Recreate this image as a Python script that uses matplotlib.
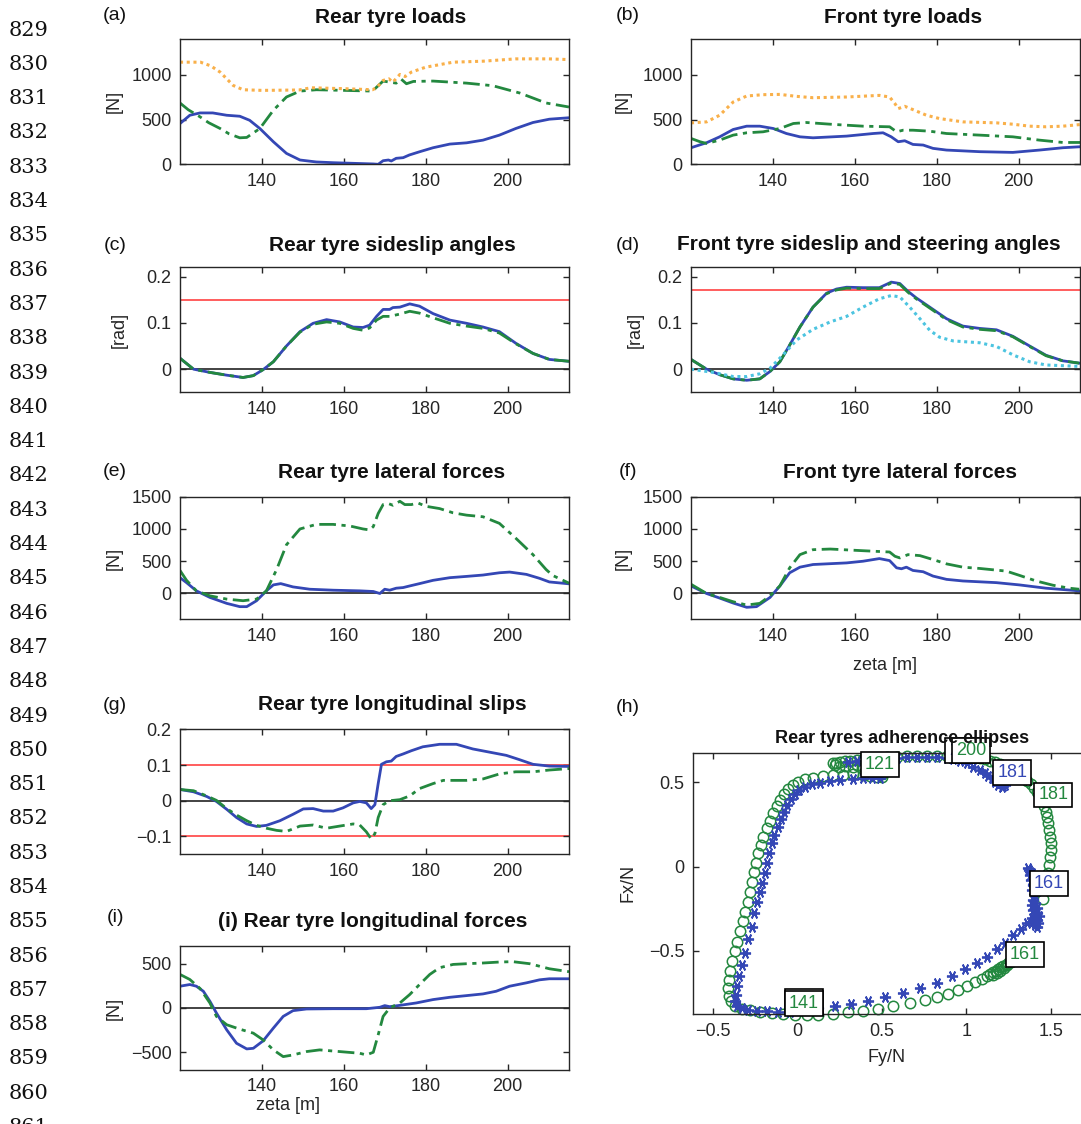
import matplotlib
matplotlib.use('Agg')
import matplotlib.pyplot as plt

W, H = 1081, 1124
plt.rcParams['font.family'] = ['Liberation Sans', 'DejaVu Sans']

BLUE = '#3447b5'
GREEN = '#23883f'
ORANGE = '#f9b04a'
CYAN = '#4cc4e0'
RED = '#ff5050'
DARK = '#262626'

# ---- data: (zeta [m], value) pairs ----
rear_load_inner = [(120, 455), (122.4, 548), (124.9, 574), (128, 574), (131.4, 548), (134.6, 537), (137, 492),
                   (139.5, 400), (142.8, 252), (146, 122), (149.3, 48), (153.3, 26), (157.4, 18), (162.3, 11),
                   (167.2, 4), (168.4, 0), (169.6, 40), (170.9, 48), (171.6, 37), (172.8, 67), (174.5, 74),
                   (176, 104), (178.5, 140), (181.8, 185), (185.9, 226), (190, 240), (194, 270), (198, 326),
                   (202, 400), (206.2, 467), (210.2, 504), (215, 520)]
rear_load_outer = [(120, 685), (122, 610), (124.9, 530), (127, 465), (129.8, 400), (132, 340), (134.6, 296),
                   (136.3, 300), (139.5, 400), (142.8, 604), (146, 752), (149.3, 818), (153.3, 833), (160, 826),
                   (167, 818), (169.6, 930), (171.2, 918), (172.8, 907), (174, 952), (175.3, 900), (177, 926),
                   (181.8, 930), (190, 907), (196.4, 878), (203, 796), (209.4, 685), (215, 640)]
rear_load_total = [(120, 1141), (125, 1141), (127.5, 1100), (129.8, 1030), (133, 881), (135.4, 833), (140, 826),
                   (149, 830), (152, 855), (160, 845), (167, 833), (168, 855), (169.6, 937), (171, 955),
                   (172, 918), (173.7, 1004), (175, 981), (176.5, 1030), (180, 1085), (186.7, 1141),
                   (194, 1152), (202, 1178), (210, 1178), (215, 1170)]

front_load_inner = [(120, 185), (123.8, 241), (127, 307), (130.3, 389), (133.6, 426), (136.8, 426), (140.1, 400),
                    (143.3, 344), (146.6, 307), (149.8, 296), (158, 315), (164.5, 344), (166.9, 352),
                    (168.9, 307), (170.6, 252), (172.2, 263), (174.2, 222), (176.7, 215), (179.1, 178),
                    (182.4, 159), (190.5, 141), (198.6, 133), (205.1, 159), (210.8, 185), (215, 196)]
front_load_outer = [(120, 289), (122.2, 252), (123.8, 233), (127, 270), (130.3, 326), (133.6, 352), (137.6, 363),
                    (141.7, 400), (145, 456), (148.2, 467), (154, 448), (162, 426), (168.5, 419), (170.2, 363),
                    (171.8, 381), (174.2, 381), (178.3, 370), (182.4, 344), (190.5, 326), (198.6, 307),
                    (205.1, 270), (210.8, 244), (215, 244)]
front_load_total = [(120, 463), (123.8, 474), (127, 548), (130.3, 696), (133.6, 763), (137.6, 778), (141.7, 781),
                    (145.8, 759), (149.8, 744), (158, 752), (166, 770), (168.5, 752), (169.8, 678), (170.6, 622),
                    (172.2, 648), (174.2, 611), (177.5, 548), (180.7, 511), (186.4, 474), (194.6, 463),
                    (198.6, 448), (202.7, 426), (206.7, 419), (210.8, 426), (215, 444)]

rear_slip_inner = [(120, 0.0236), (123.3, 0.0), (127.3, -0.007), (131.4, -0.013), (135.4, -0.018),
                   (137.9, -0.014), (140.3, -0.001), (142.8, 0.016), (146, 0.05), (149.3, 0.081), (152.5, 0.099),
                   (155.8, 0.107), (159, 0.102), (162.3, 0.091), (164.7, 0.09), (166.3, 0.095), (168, 0.114),
                   (169.6, 0.129), (171.2, 0.129), (172, 0.133), (173.7, 0.134), (176.1, 0.141), (178.5, 0.136),
                   (181.8, 0.12), (185.9, 0.106), (190, 0.099), (194, 0.091), (198, 0.081), (202, 0.056),
                   (206.2, 0.034), (210.2, 0.021), (215, 0.017)]
rear_slip_outer = [(120, 0.0236), (123.3, 0.0), (127.3, -0.007), (131.4, -0.013), (135.4, -0.018),
                   (137.9, -0.014), (140.3, -0.001), (142.8, 0.016), (146, 0.05), (149.3, 0.08), (152.5, 0.097),
                   (155.8, 0.102), (159, 0.099), (162.3, 0.088), (164.7, 0.084), (166.3, 0.089), (168, 0.106),
                   (169.6, 0.114), (171.2, 0.114), (173.7, 0.119), (176.1, 0.125), (178.5, 0.121),
                   (181.8, 0.111), (185.9, 0.099), (190, 0.093), (194, 0.088), (198, 0.078), (202, 0.055),
                   (206.2, 0.034), (210.2, 0.021), (215, 0.017)]
rear_slip_limit = 0.15

front_slip_inner = [(120, 0.021), (123.8, 0.0), (127, -0.012), (130.3, -0.021), (133.6, -0.024), (136.8, -0.021),
                    (139.3, -0.005), (141.7, 0.016), (144.1, 0.052), (146.6, 0.091), (149.8, 0.134),
                    (153.1, 0.164), (155.5, 0.173), (158, 0.177), (162, 0.176), (166, 0.176), (167.7, 0.183),
                    (168.9, 0.188), (171, 0.185), (173, 0.168), (175, 0.154), (178.3, 0.134), (182.4, 0.109),
                    (186.4, 0.093), (190.5, 0.088), (194.6, 0.085), (198.6, 0.071), (202.7, 0.05),
                    (206.7, 0.03), (210.8, 0.018), (214.8, 0.013)]
front_slip_outer = [(120, 0.021), (123.8, 0.0), (127, -0.012), (130.3, -0.021), (133.6, -0.024), (136.8, -0.021),
                    (139.3, -0.005), (141.7, 0.016), (144.1, 0.052), (146.6, 0.091), (149.8, 0.134),
                    (153.1, 0.163), (155.5, 0.171), (158, 0.175), (162, 0.174), (166, 0.174), (167.7, 0.181),
                    (168.9, 0.186), (171, 0.183), (173, 0.166), (175, 0.152), (178.3, 0.132), (182.4, 0.107),
                    (186.4, 0.091), (190.5, 0.086), (194.6, 0.083), (198.6, 0.07), (202.7, 0.049),
                    (206.7, 0.029), (210.8, 0.018), (214.8, 0.013)]
steer_angle = [(120, 0.0), (125.4, -0.007), (130.3, -0.016), (133.6, -0.016), (136.8, -0.01), (139.3, 0.002),
               (142.5, 0.031), (145.8, 0.063), (149.8, 0.086), (154, 0.102), (158, 0.114), (162, 0.134),
               (166, 0.152), (168.9, 0.159), (171, 0.156), (173.4, 0.134), (175.9, 0.109), (178.3, 0.084),
               (180.7, 0.069), (184, 0.061), (190.5, 0.057), (194.6, 0.049), (198.6, 0.031), (202.7, 0.016),
               (206.7, 0.009), (214.8, 0.006)]
front_slip_limit = 0.17

rear_fy_inner = [(120, 245), (121.6, 168), (124, 41), (127.3, -61), (131.4, -153), (134.6, -204), (136.3, -204),
                 (138.7, -112), (141.1, 41), (142.8, 133), (144.6, 153), (147.6, 102), (151.7, 66), (157.4, 51),
                 (163.9, 41), (167.2, 31), (168.8, 0), (170, 66), (171.2, 51), (172.8, 82), (174.5, 92),
                 (176.1, 117), (178.5, 153), (181.8, 204), (185.9, 245), (190, 265), (194, 286), (198, 321),
                 (200.5, 332), (204.6, 296), (207.8, 235), (210.2, 179), (215, 150)]
rear_fy_outer = [(120, 357), (121.6, 204), (124, 41), (127.3, -36), (131.4, -87), (135.4, -112), (138.7, -87),
                 (141.1, 41), (143.6, 372), (146, 755), (149.3, 1000), (153.3, 1071), (157.4, 1071),
                 (161.5, 1046), (164.7, 1000), (166.3, 985), (167.2, 1036), (168.4, 1240), (169.6, 1378),
                 (170.9, 1393), (172, 1367), (173.7, 1429), (174.9, 1378), (176.5, 1378), (178.1, 1403),
                 (180, 1352), (183.4, 1316), (186.7, 1250), (190, 1214), (194, 1189), (198, 1087), (202, 857),
                 (206.2, 602), (209.4, 372), (211, 280), (215, 160)]

front_fy_inner = [(120, 117), (123.8, 0), (127, -71), (130.3, -148), (133.6, -214), (136, -204), (139.3, -61),
                  (141.7, 117), (144.1, 321), (146.6, 408), (149.8, 449), (158, 474), (162, 500), (166, 541),
                  (168.5, 510), (170.2, 398), (171.4, 383), (172.6, 408), (174.2, 357), (176.7, 337),
                  (179.1, 270), (182.4, 219), (186.4, 194), (194.6, 168), (200.2, 133), (206.7, 82), (214.8, 41)]
front_fy_outer = [(120, 143), (123.8, 0), (127, -61), (130.3, -128), (133.6, -179), (136.8, -153), (139.3, -36),
                  (141.7, 117), (144.1, 398), (146.6, 602), (149.8, 679), (154, 689), (162, 663), (168.5, 643),
                  (169.8, 577), (171, 551), (173, 602), (175.9, 587), (179.1, 526), (182.4, 459), (186.4, 408),
                  (190.5, 388), (197, 347), (200.2, 281), (204.3, 194), (208.4, 128), (212.4, 82), (214.8, 66)]

rear_kappa_inner = [(120, 0.0315), (123.3, 0.025), (126.5, 0.012), (128.9, -0.002), (131.4, -0.024),
                    (133.8, -0.047), (136.3, -0.065), (138.7, -0.072), (141.1, -0.069), (144.4, -0.056),
                    (147.6, -0.038), (150.1, -0.023), (152.5, -0.022), (155, -0.029), (157.4, -0.029),
                    (159.8, -0.02), (162.3, -0.006), (163.9, -0.002), (165.5, -0.006), (166.7, -0.022),
                    (167.6, -0.011), (168.4, 0.048), (169.2, 0.102), (170.4, 0.109), (171.6, 0.111),
                    (172.8, 0.124), (174.5, 0.131), (176.5, 0.14), (179.3, 0.151), (183.4, 0.158), (187.5, 0.158),
                    (191.5, 0.145), (195.6, 0.136), (199.7, 0.127), (202.9, 0.115), (206.2, 0.102),
                    (210.2, 0.097), (215, 0.096)]
rear_kappa_outer = [(120, 0.0315), (123.3, 0.028), (126.5, 0.0135), (128.9, 0.001), (131.4, -0.022),
                    (133.8, -0.04), (136.3, -0.056), (138.7, -0.069), (141.1, -0.077), (143.6, -0.083),
                    (146, -0.086), (149.3, -0.071), (152.5, -0.068), (155.8, -0.077), (159, -0.071),
                    (162.3, -0.065), (163.9, -0.068), (165.5, -0.087), (166.7, -0.107), (167.6, -0.092),
                    (168.4, -0.047), (169.6, -0.011), (171.2, 0.0), (173.7, 0.003), (176.1, 0.0135),
                    (178.5, 0.034), (181.8, 0.048), (184.3, 0.057), (190, 0.057), (194, 0.061), (198, 0.075),
                    (202, 0.081), (206.2, 0.081), (210.2, 0.086), (215, 0.09)]
kappa_limits = [0.1, -0.1]

rear_fx_inner = [(120, 246), (122.4, 265), (124, 246), (125.7, 189), (127.3, 76), (128.9, -57), (131.4, -246),
                 (133.8, -398), (136.3, -462), (137.9, -455), (140.3, -371), (142.8, -227), (145.2, -95),
                 (147.6, -30), (150.9, -11), (157.4, -8), (165.5, -8), (168.8, 8), (170, 27), (171.2, 15),
                 (173.7, 30), (177.7, 57), (181.8, 95), (185.9, 121), (190, 140), (194, 159), (197.2, 189),
                 (200.5, 246), (204.6, 284), (207.8, 318), (210.2, 330), (215, 330)]
rear_fx_outer = [(120, 379), (122.4, 322), (124.9, 220), (127.3, 57), (128.9, -95), (131.4, -189), (134.6, -239),
                 (137.9, -284), (140.3, -360), (142.8, -473), (145.2, -549), (147.6, -530), (150.9, -492),
                 (154.1, -473), (159, -492), (163.9, -511), (165.5, -530), (167.2, -500), (168.4, -303),
                 (169.6, -95), (171.2, 0), (173.7, 57), (176.1, 152), (178.5, 265), (181, 379), (183.4, 455),
                 (186.7, 492), (190, 500), (194, 508), (198, 519), (201.3, 523), (205.4, 500), (210.2, 443),
                 (215, 410)]

# adherence ellipse points (Fy/N, Fx/N)
ellipse_outer = [(0.498, 0.530), (0.468, 0.534), (0.429, 0.538), (0.389, 0.543), (0.330, 0.549), (0.271, 0.545),
                 (0.211, 0.542), (0.152, 0.536), (0.093, 0.528), (0.043, 0.518), (0.004, 0.504), (-0.030, 0.484),
                 (-0.055, 0.458), (-0.081, 0.429), (-0.105, 0.395), (-0.125, 0.360), (-0.144, 0.316),
                 (-0.164, 0.273), (-0.184, 0.227), (-0.204, 0.178), (-0.219, 0.128), (-0.233, 0.079),
                 (-0.247, 0.024), (-0.259, -0.030), (-0.271, -0.089), (-0.283, -0.148), (-0.296, -0.208),
                 (-0.310, -0.267), (-0.326, -0.326), (-0.342, -0.385), (-0.358, -0.445), (-0.374, -0.504),
                 (-0.389, -0.563), (-0.401, -0.617), (-0.409, -0.672), (-0.413, -0.721), (-0.409, -0.767),
                 (-0.397, -0.800), (-0.372, -0.826), (-0.332, -0.844), (-0.283, -0.854), (-0.223, -0.862),
                 (-0.154, -0.870), (-0.085, -0.877), (-0.016, -0.881), (0.053, -0.881), (0.123, -0.879),
                 (0.211, -0.874), (0.300, -0.866), (0.389, -0.856), (0.478, -0.844), (0.567, -0.830),
                 (0.666, -0.812), (0.755, -0.794), (0.824, -0.777), (0.893, -0.755), (0.953, -0.731),
                 (1.002, -0.708), (1.051, -0.688), (1.091, -0.668), (1.121, -0.648), (1.140, -0.636),
                 (1.160, -0.628), (1.176, -0.617), (1.190, -0.609), (1.204, -0.599), (1.219, -0.589),
                 (1.235, -0.583), (1.249, -0.573), (1.263, -0.569), (1.180, -0.632), (1.200, -0.617),
                 (1.223, -0.603), (1.160, -0.644), (1.243, -0.585), (1.457, -0.194), (1.476, -0.119),
                 (1.486, -0.040), (1.492, 0.010), (1.496, 0.059), (1.500, 0.099), (1.500, 0.138), (1.496, 0.178),
                 (1.492, 0.217), (1.486, 0.257), (1.480, 0.292), (1.472, 0.326), (1.462, 0.360), (1.453, 0.391),
                 (1.437, 0.419), (1.421, 0.445), (1.403, 0.468), (1.383, 0.490), (1.362, 0.508), (1.338, 0.528),
                 (1.314, 0.543), (1.289, 0.563), (1.259, 0.579), (1.229, 0.593), (1.200, 0.607), (1.170, 0.619),
                 (1.140, 0.628), (1.111, 0.636), (1.081, 0.642), (1.042, 0.648), (1.002, 0.652), (0.943, 0.656),
                 (0.883, 0.658), (0.824, 0.658), (0.765, 0.656), (0.706, 0.656), (0.646, 0.654), (0.587, 0.652),
                 (0.528, 0.648), (0.478, 0.644), (0.429, 0.640), (0.389, 0.636), (0.350, 0.632), (0.310, 0.628),
                 (0.281, 0.625), (0.251, 0.621), (0.227, 0.617), (0.211, 0.613), (0.221, 0.601), (0.247, 0.593),
                 (0.281, 0.597), (0.330, 0.593), (0.379, 0.585), (0.429, 0.577), (0.468, 0.565), (0.498, 0.549),
                 (0.350, 0.605), (0.409, 0.601), (0.449, 0.593), (0.488, 0.581)]
ellipse_inner = [(0.488, 0.528), (0.439, 0.526), (0.389, 0.524), (0.330, 0.520), (0.251, 0.512), (0.192, 0.506),
                 (0.132, 0.498), (0.083, 0.488), (0.043, 0.474), (0.010, 0.455), (-0.016, 0.429), (-0.042, 0.399),
                 (-0.061, 0.366), (-0.081, 0.326), (-0.099, 0.283), (-0.119, 0.237), (-0.138, 0.188),
                 (-0.154, 0.138), (-0.170, 0.083), (-0.184, 0.020), (-0.194, -0.040), (-0.209, -0.095),
                 (-0.223, -0.148), (-0.239, -0.211), (-0.257, -0.277), (-0.273, -0.356), (-0.292, -0.431),
                 (-0.312, -0.514), (-0.328, -0.583), (-0.346, -0.652), (-0.358, -0.711), (-0.366, -0.761),
                 (-0.370, -0.800), (-0.362, -0.826), (-0.332, -0.840), (-0.292, -0.850), (-0.243, -0.856),
                 (-0.184, -0.860), (-0.115, -0.864), (-0.045, -0.862), (0.034, -0.854), (0.123, -0.842),
                 (0.221, -0.830), (0.314, -0.814), (0.419, -0.800), (0.520, -0.777), (0.623, -0.751),
                 (0.725, -0.721), (0.824, -0.692), (0.913, -0.652), (0.992, -0.609), (1.061, -0.573),
                 (1.125, -0.534), (1.180, -0.490), (1.229, -0.451), (1.279, -0.409), (1.322, -0.372),
                 (1.358, -0.336), (1.387, -0.306), (1.407, -0.287), (1.417, -0.316), (1.427, -0.336),
                 (1.421, -0.356), (1.407, -0.346), (1.397, -0.326), (1.433, -0.296), (1.417, -0.277),
                 (1.397, -0.257), (1.387, -0.227), (1.397, -0.198), (1.407, -0.168), (1.387, -0.138),
                 (1.397, -0.109), (1.381, -0.079), (1.377, -0.049), (1.374, -0.020), (1.368, -0.010),
                 (1.387, -0.040), (1.407, -0.217), (1.421, -0.247), (1.229, 0.484), (1.209, 0.474),
                 (1.190, 0.484), (1.170, 0.504), (1.150, 0.524), (1.130, 0.538), (1.111, 0.553), (1.200, 0.494),
                 (1.219, 0.478), (1.180, 0.514), (1.081, 0.573), (1.042, 0.593), (1.002, 0.613), (0.962, 0.628),
                 (0.923, 0.636), (0.883, 0.642), (0.824, 0.648), (0.765, 0.648), (0.706, 0.648), (0.646, 0.648),
                 (0.587, 0.644), (0.528, 0.640), (0.468, 0.636), (0.409, 0.632), (0.350, 0.628), (0.300, 0.623)]

# data tips: (label, Fy/N, Fx/N, series)
data_tips = [('121', 0.488, 0.607, 'outer'), ('200', 0.987, 0.688, 'inner'), ('200', 1.028, 0.688, 'outer'),
             ('181', 1.273, 0.557, 'inner'), ('181', 1.516, 0.425, 'outer'), ('161', 1.490, -0.099, 'inner'),
             ('161', 1.348, -0.524, 'outer'), ('141', 0.038, -0.800, 'inner'), ('141', 0.038, -0.814, 'outer')]

zeta_ticks = [140, 160, 180, 200]
load_ticks, load_labels = [0, 500, 1000], ['0', '500', '1000']
angle_ticks, angle_labels = [0, 0.1, 0.2], ['0', '0.1', '0.2']
lat_ticks, lat_labels = [0, 500, 1000, 1500], ['0', '500', '1000', '1500']
kappa_ticks, kappa_labels = [-0.1, 0, 0.1, 0.2], ['\u22120.1', '0', '0.1', '0.2']
long_ticks, long_labels = [-500, 0, 500], ['\u2212500', '0', '500']
fy_ticks, fy_labels = [-0.5, 0, 0.5, 1, 1.5], ['\u22120.5', '0', '0.5', '1', '1.5']
fx_ticks, fx_labels = [-0.5, 0, 0.5], ['\u22120.5', '0', '0.5']

STYLE_INNER = dict(color=BLUE, lw=2.0, ls='-')
STYLE_OUTER = dict(color=GREEN, lw=2.0, ls=(0, (6, 2, 1.5, 2)))
STYLE_TOTAL = dict(color=ORANGE, lw=2.2, ls=(0, (1, 1.2)))
STYLE_STEER = dict(color=CYAN, lw=2.2, ls=(0, (1, 1.2)))

fig = plt.figure(figsize=(W / 100, H / 100), dpi=100)


def box(left, top, right, bottom):
    return [left / W, 1 - bottom / H, (right - left) / W, (bottom - top) / H]


def ftext(x, y, s, **kw):
    fig.text(x / W, 1 - y / H, s, **kw)


def style_axes(ax):
    for sp in ax.spines.values():
        sp.set_color(DARK)
        sp.set_linewidth(1.0)
    ax.tick_params(direction='in', top=True, right=True, length=4, width=1,
                   color=DARK, labelcolor=DARK, labelsize=13, pad=6)


def time_panel(rect, series, ylim, yticks, ylabels, hlines=(), zero=True):
    ax = fig.add_axes(rect)
    if zero:
        ax.axhline(0, color='#222222', lw=1.2, zorder=1)
    for h in hlines:
        ax.axhline(h, color=RED, lw=1.3, zorder=1)
    for data, st in series:
        z, v = zip(*data)
        ax.plot(z, v, zorder=2, **st)
    ax.set_xlim(120, 215)
    ax.set_ylim(*ylim)
    ax.set_xticks(zeta_ticks)
    ax.set_yticks(yticks)
    ax.set_yticklabels(ylabels)
    style_axes(ax)
    return ax


LX0, LX1 = 180, 569
RX0, RX1 = 691, 1080

time_panel(box(LX0, 39, LX1, 164.3),
           [(rear_load_inner, STYLE_INNER), (rear_load_outer, STYLE_OUTER), (rear_load_total, STYLE_TOTAL)],
           (0, 1400), load_ticks, load_labels, zero=False)
time_panel(box(RX0, 39, RX1, 164.3),
           [(front_load_inner, STYLE_INNER), (front_load_outer, STYLE_OUTER), (front_load_total, STYLE_TOTAL)],
           (0, 1400), load_ticks, load_labels, zero=False)
time_panel(box(LX0, 267.3, LX1, 392.3),
           [(rear_slip_inner, STYLE_INNER), (rear_slip_outer, STYLE_OUTER)],
           (-0.05, 0.22), angle_ticks, angle_labels, hlines=[rear_slip_limit])
time_panel(box(RX0, 267.3, RX1, 392.3),
           [(front_slip_inner, STYLE_INNER), (front_slip_outer, STYLE_OUTER), (steer_angle, STYLE_STEER)],
           (-0.05, 0.22), angle_ticks, angle_labels, hlines=[front_slip_limit])
time_panel(box(LX0, 496.7, LX1, 619.3),
           [(rear_fy_inner, STYLE_INNER), (rear_fy_outer, STYLE_OUTER)],
           (-400, 1500), lat_ticks, lat_labels)
time_panel(box(RX0, 496.7, RX1, 619.3),
           [(front_fy_inner, STYLE_INNER), (front_fy_outer, STYLE_OUTER)],
           (-400, 1500), lat_ticks, lat_labels)
time_panel(box(LX0, 729.3, LX1, 854.3),
           [(rear_kappa_inner, STYLE_INNER), (rear_kappa_outer, STYLE_OUTER)],
           (-0.15, 0.2), kappa_ticks, kappa_labels, hlines=kappa_limits)
time_panel(box(LX0, 946, LX1, 1070),
           [(rear_fx_inner, STYLE_INNER), (rear_fx_outer, STYLE_OUTER)],
           (-700, 700), long_ticks, long_labels)

# (h) adherence ellipses
axh = fig.add_axes(box(692.7, 752.7, 1090, 1014.3))
gx, gy = zip(*ellipse_outer)
axh.plot(gx, gy, ls='none', marker='o', ms=7.5, mfc='none', mec=GREEN, mew=1.1, clip_on=False)
bx, by = zip(*ellipse_inner)
axh.plot(bx, by, ls='none', marker=(6, 2, 90), ms=8, mec=BLUE, mew=1.3, clip_on=False)
axh.set_xlim(-0.622, 1.733)
axh.set_ylim(-0.877, 0.676)
axh.set_xticks(fy_ticks)
axh.set_xticklabels(fy_labels)
axh.set_yticks(fx_ticks)
axh.set_yticklabels(fx_labels)
style_axes(axh)
for label, tx, ty, which in data_tips:
    col = GREEN if which == 'outer' else BLUE
    axh.text(tx, ty, label, color=col, fontsize=13, ha='center', va='center', clip_on=False, zorder=5,
             bbox=dict(boxstyle='square,pad=0.22', fc='white', ec='black', lw=1.2))

# titles
TKW = dict(fontsize=15, fontweight='bold', color='#111111', va='baseline')
ftext(391, 23, 'Rear tyre loads', ha='center', **TKW)
ftext(903, 23, 'Front tyre loads', ha='center', **TKW)
ftext(392, 251, 'Rear tyre sideslip angles', ha='center', **TKW)
ftext(677, 250, 'Front tyre sideslip and steering angles', ha='left', **TKW)
ftext(392, 478, 'Rear tyre lateral forces', ha='center', **TKW)
ftext(900, 478, 'Front tyre lateral forces', ha='center', **TKW)
ftext(392, 710, 'Rear tyre longitudinal slips', ha='center', **TKW)
ftext(373, 927, '(i) Rear tyre longitudinal forces', ha='center', **TKW)
ftext(902, 743, 'Rear tyres adherence ellipses', ha='center', fontsize=13, fontweight='bold',
      color='#111111', va='baseline')

# panel letters
for letter, x, y in [('(a)', 115, 15), ('(b)', 628, 15), ('(c)', 115, 245), ('(d)', 628, 245),
                     ('(e)', 115, 471), ('(f)', 628, 471), ('(g)', 115, 705), ('(h)', 628, 708),
                     ('(i)', 115, 918)]:
    ftext(x, y, letter, fontsize=14, ha='center', va='center', color='#111111')

# axis labels
LKW = dict(fontsize=13, color=DARK, ha='center', va='center')
ftext(114, 101.6, '[N]', rotation=90, **LKW)
ftext(623, 101.6, '[N]', rotation=90, **LKW)
ftext(119, 330, '[rad]', rotation=90, **LKW)
ftext(635, 330, '[rad]', rotation=90, **LKW)
ftext(114, 558, '[N]', rotation=90, **LKW)
ftext(623, 558, '[N]', rotation=90, **LKW)
ftext(114, 1008, '[N]', rotation=90, **LKW)
ftext(885, 666, 'zeta [m]', **LKW)
ftext(288, 1105, 'zeta [m]', **LKW)
ftext(887, 1057, 'Fy/N', **LKW)
ftext(628, 883, 'Fx/N', rotation=90, **LKW)

# manuscript line numbers at the left margin
for i, n in enumerate(range(829, 862)):
    ftext(29, 30 + i * 34.3, str(n), family='DejaVu Serif', fontsize=15, ha='center', va='center',
          color='#111111')

fig.savefig('out.png', dpi=100)
